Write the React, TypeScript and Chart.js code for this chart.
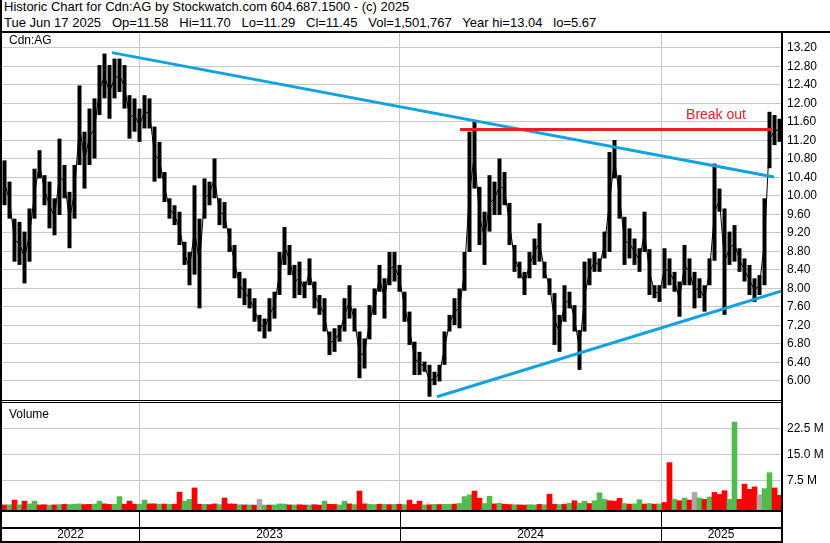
import React, { useEffect, useRef } from 'react';
import { Chart, registerables } from 'chart.js';

Chart.register(...registerables);

// ---------- text ----------
const headerLine1 = 'Historic Chart for Cdn:AG by Stockwatch.com 604.687.1500 - (c) 2025';
const headerLine2 =
  'Tue Jun 17 2025   Op=11.58   Hi=11.70   Lo=11.29   Cl=11.45   Vol=1,501,767   Year hi=13.04   lo=5.67';
const symbolLabel = 'Cdn:AG';
const volumeLabel = 'Volume';

// ---------- data (one entry per week, Jun 2022 .. Jun 2025) ----------
const highs = [
  10.77, 10.31, 9.51, 9.44, 9.23, 9.73, 10.59, 10.99, 10.45, 10.31,
  9.95, 11.24, 10.67, 10.09, 10.67, 12.39, 11.39, 11.89, 12.11, 12.83,
  13.08, 12.83, 12.97, 12.97, 12.83, 12.18, 12.11, 11.89, 12.18, 12.11,
  11.5, 11.17, 10.52, 9.95, 9.8, 9.66, 9.01, 8.79, 10.23, 9.51,
  10.38, 10.31, 10.81, 9.95, 9.87, 9.3, 8.94, 8.36, 8.22, 8.0,
  7.79, 7.43, 7.35, 7.79, 7.93, 8.79, 9.33, 8.94, 8.51, 8.58,
  8.15, 8.65, 8.15, 7.86, 7.79, 7.07, 7.14, 7.21, 7.79, 8.07,
  7.57, 7.07, 6.92, 7.64, 8.0, 8.51, 8.22, 8.79, 8.79, 8.51,
  7.93, 7.5, 6.85, 6.63, 6.42, 6.35, 6.2, 6.35, 7.07, 7.43,
  7.79, 8.0, 8.79, 11.39, 11.64, 10.2, 9.66, 10.45, 10.31, 10.81,
  10.52, 9.85, 8.94, 8.58, 8.36, 8.79, 9.08, 9.41, 8.58, 8.22,
  7.9, 7.43, 8.07, 7.93, 7.64, 7.1, 8.58, 8.65, 8.79, 8.65,
  9.23, 10.95, 11.21, 10.45, 9.55, 9.3, 9.08, 8.87, 9.66, 8.85,
  8.07, 8.07, 8.87, 8.65, 8.36, 8.15, 8.94, 8.65, 8.36, 8.22,
  8.07, 8.65, 10.7, 10.16, 9.73, 9.23, 9.37, 8.87, 8.65, 8.51,
  8.22, 8.29, 9.95, 11.82, 11.75, 11.67,
];
const lows = [
  9.8, 9.51, 8.58, 8.51, 8.11, 8.58, 9.51, 10.38, 9.8, 9.3,
  9.15, 9.59, 9.95, 8.87, 9.51, 10.67, 10.16, 10.67, 10.81, 11.75,
  12.11, 11.67, 12.11, 12.25, 11.89, 11.24, 11.39, 11.17, 11.46, 11.46,
  10.31, 10.38, 9.87, 9.51, 9.37, 8.94, 8.51, 8.07, 8.3, 7.57,
  9.51, 9.8, 9.95, 9.37, 9.3, 8.79, 8.22, 7.79, 7.64, 7.57,
  7.28, 7.07, 6.92, 7.07, 7.35, 7.86, 8.51, 8.29, 7.79, 7.86,
  7.79, 8.07, 7.57, 7.43, 7.07, 6.56, 6.63, 6.85, 7.07, 7.35,
  7.07, 6.06, 6.27, 6.9, 7.43, 7.93, 7.35, 8.07, 8.15, 7.93,
  7.28, 6.78, 6.13, 6.13, 6.2, 5.66, 5.91, 5.99, 6.35, 7.07,
  7.21, 7.14, 7.95, 8.79, 10.16, 8.94, 8.51, 9.23, 9.59, 9.59,
  9.8, 8.94, 8.36, 8.22, 7.86, 8.22, 8.51, 8.58, 8.22, 7.86,
  6.78, 6.63, 7.28, 7.57, 7.07, 6.24, 7.07, 8.07, 8.36, 8.36,
  8.65, 8.79, 10.38, 9.51, 8.51, 8.65, 8.51, 8.36, 8.79, 7.86,
  7.79, 7.71, 8.0, 8.07, 7.93, 7.39, 8.07, 8.07, 7.57, 7.79,
  7.5, 8.07, 8.6, 9.66, 7.43, 8.51, 8.58, 8.36, 8.15, 7.86,
  7.71, 7.86, 8.07, 10.6, 11.1, 11.17,
];
// volume in millions
const volumes = [
  0.4, 0.45, 1.8, 0.45, 1.5, 0.7, 1.5, 0.4, 0.45, 0.35,
  0.4, 0.5, 0.55, 0.5, 0.6, 0.7, 0.5, 0.55, 0.65, 1.5,
  0.7, 0.55, 0.6, 2.8, 0.6, 1.5, 0.6, 0.6, 1.8, 0.7,
  0.7, 0.6, 0.65, 0.55, 0.6, 4.1, 1.5, 2.0, 5.3, 0.6,
  0.55, 0.5, 0.7, 0.5, 2.4, 0.7, 0.65, 0.45, 0.4, 0.4,
  0.35, 2.0, 0.35, 0.35, 0.4, 0.7, 0.65, 0.4, 0.4, 0.45,
  0.35, 0.4, 0.45, 0.35, 1.5, 0.6, 0.55, 0.4, 1.5, 0.7,
  0.5, 4.4, 0.7, 0.55, 0.5, 0.6, 0.55, 0.5, 0.55, 0.6,
  0.5, 1.8, 0.55, 1.5, 0.4, 0.45, 0.55, 0.5, 0.6, 0.55,
  0.65, 0.8, 2.8, 3.3, 4.4, 2.3, 0.8, 2.9, 0.7, 0.9,
  0.6, 0.5, 0.45, 0.4, 0.35, 0.45, 0.4, 0.55, 0.45, 3.5,
  0.6, 0.5, 0.55, 0.9, 1.6, 0.9, 1.5, 0.8, 1.6, 3.9,
  2.0, 1.6, 1.5, 2.3, 0.8, 0.6, 0.7, 1.9, 0.65, 0.8,
  0.6, 0.7, 1.1, 12.6, 2.0, 1.6, 2.4, 1.8, 4.0, 2.4,
  2.0, 2.7, 4.0, 3.4, 4.5, 2.0, 24.3, 2.0, 6.4, 4.9,
  5.6, 3.3, 5.1, 9.7, 5.3, 3.2,
];
// r = down, g = up, n = unchanged
const volumeDirs = [
  'rgrgrggrrg', 'rgrgggrrgg', 'rrggrrrggr', 'rgrgrrggrr', 'grrgrrrgrg',
  'rngrgggrgr', 'rgrrgrrggr', 'grrggrgrgr', 'grrrgrgrgg', 'rgggrrggrg',
  'rrgrrggrgr', 'rgrgrggrgg', 'grrrgrggrg', 'rgrrgrgrng', 'rgrrrggrrr',
  'rnggrr',
].join('').split('');

const priceTicks = [
  6.0, 6.4, 6.8, 7.2, 7.6, 8.0, 8.4, 8.8, 9.2, 9.6,
  10.0, 10.4, 10.8, 11.2, 11.6, 12.0, 12.4, 12.8, 13.2,
];
const volumeTicks = [7.5, 15.0, 22.5];
const yearLabels = ['2022', '2023', '2024', '2025'];
const yearStarts = [27.4, 79.6, 131.8]; // in weeks from the first bar
const weekSpan = 155.8;

const priceMin = 5.589;
const priceMax = 13.524;
const volMin = -1.067;
const volMax = 29.8;

// trend lines drawn by the author of the chart
const upperTrend = [
  { x: 22.0, y: 13.1 },
  { x: 154.4, y: 10.41 },
];
const lowerTrend = [
  { x: 87.0, y: 5.66 },
  { x: 155.8, y: 7.94 },
];
const breakoutLine = [
  { x: 91.6, y: 11.44 },
  { x: 154.0, y: 11.44 },
];
const breakoutText = { text: 'Break out', x: 142.8, y: 11.75 };

// ---------- styles ----------
const FONT = '"Liberation Sans", Arial, Helvetica, sans-serif';
const GRID = '#c8c8c8';
const BLUE = '#13a1e1';
const RED = '#ed1c24';
const DIR_COLORS: Record<string, string> = { r: '#ff0000', g: '#52bb4e', n: '#aaaaaa' };

const W = 830;
const PRICE_TOP = 33;
const PRICE_H = 367;
const VOL_TOP = 403;
const VOL_H = 140;
const AXIS_W = 49;

function xScaleOptions() {
  return {
    type: 'linear' as const,
    min: 0,
    max: weekSpan,
    offset: false,
    grid: { color: GRID, lineWidth: 1, drawTicks: false, offset: false },
    border: { display: false },
    ticks: { display: false },
    afterBuildTicks: (s: any) => {
      s.ticks = yearStarts.map((v) => ({ value: v }));
    },
    afterFit: (s: any) => {
      s.height = 0;
      s.paddingLeft = 0;
      s.paddingRight = 0;
      s.paddingTop = 0;
      s.paddingBottom = 0;
    },
  };
}

function yScaleOptions(min: number, max: number, ticks: number[], fmt: (v: number) => string) {
  return {
    position: 'right' as const,
    min,
    max,
    grid: { color: GRID, lineWidth: 1, drawTicks: false },
    border: { display: false },
    ticks: {
      padding: 6,
      color: '#000',
      font: { family: FONT, size: 12 },
      callback: (v: any) => fmt(Number(v)),
    },
    afterBuildTicks: (s: any) => {
      s.ticks = ticks.map((v) => ({ value: v }));
    },
    afterFit: (s: any) => {
      s.width = AXIS_W;
      s.paddingTop = 0;
      s.paddingBottom = 0;
      s.paddingLeft = 0;
      s.paddingRight = 0;
    },
  };
}

function PriceChart() {
  const ref = useRef<HTMLCanvasElement>(null);
  useEffect(() => {
    const labelPlugin = {
      id: 'priceLabels',
      afterDatasetsDraw(chart: any) {
        const { ctx, chartArea, scales } = chart;
        ctx.save();
        ctx.font = `12px ${FONT}`;
        ctx.fillStyle = '#000';
        ctx.textAlign = 'left';
        ctx.textBaseline = 'middle';
        ctx.fillText(symbolLabel, chartArea.left + 7, chartArea.top + 8);
        ctx.font = `14px ${FONT}`;
        ctx.fillStyle = RED;
        ctx.textAlign = 'center';
        ctx.fillText(
          breakoutText.text,
          scales.x.getPixelForValue(breakoutText.x),
          scales.y.getPixelForValue(breakoutText.y)
        );
        ctx.restore();
      },
    };
    const chart = new Chart(ref.current!, {
      type: 'bar',
      data: {
        datasets: [
          {
            type: 'line',
            data: breakoutLine,
            borderColor: RED,
            borderWidth: 3,
            pointRadius: 0,
            order: 0,
          } as any,
          {
            type: 'line',
            data: upperTrend,
            borderColor: BLUE,
            borderWidth: 3,
            pointRadius: 0,
            order: 1,
          },
          {
            type: 'line',
            data: lowerTrend,
            borderColor: BLUE,
            borderWidth: 3,
            pointRadius: 0,
            order: 1,
          },
          {
            type: 'line',
            data: highs.map((h, i) => ({ x: i + 0.5, y: (h + lows[i]) / 2 })),
            borderColor: '#000',
            borderWidth: 1,
            pointRadius: 0,
            order: 2,
          },
          {
            type: 'bar',
            data: highs.map((h, i) => ({ x: i + 0.5, y: [lows[i], h] })),
            backgroundColor: '#000',
            borderWidth: 0,
            barPercentage: 0.8,
            categoryPercentage: 1,
            order: 3,
          },
        ],
      },
      options: {
        responsive: false,
        animation: false,
        events: [],
        layout: { autoPadding: false, padding: { left: 2, right: 0, top: 0, bottom: 0 } },
        plugins: { legend: { display: false }, tooltip: { enabled: false } },
        scales: {
          x: xScaleOptions(),
          y: yScaleOptions(priceMin, priceMax, priceTicks, (v) => v.toFixed(2)),
        } as any,
      },
      plugins: [labelPlugin],
    } as any);
    return () => chart.destroy();
  }, []);
  return (
    <canvas
      ref={ref}
      width={W}
      height={PRICE_H}
      style={{ position: 'absolute', left: 0, top: PRICE_TOP, width: W, height: PRICE_H }}
    />
  );
}

function VolumeChart() {
  const ref = useRef<HTMLCanvasElement>(null);
  useEffect(() => {
    const bandPlugin = {
      id: 'volumeBands',
      afterDatasetsDraw(chart: any) {
        const { ctx, chartArea, scales } = chart;
        const xs = scales.x;
        ctx.save();
        ctx.font = `12px ${FONT}`;
        ctx.fillStyle = '#000';
        ctx.textAlign = 'left';
        ctx.textBaseline = 'middle';
        ctx.fillText(volumeLabel, chartArea.left + 7, chartArea.top + 12);
        // year separators in the date bands
        ctx.strokeStyle = '#000';
        ctx.lineWidth = 1;
        const bandTop = chartArea.bottom + 2;
        const bandBottom = VOL_H - 2;
        yearStarts.forEach((v) => {
          const px = Math.round(xs.getPixelForValue(v)) + 0.5;
          ctx.beginPath();
          ctx.moveTo(px, bandTop);
          ctx.lineTo(px, bandBottom);
          ctx.stroke();
        });
        const bounds = [xs.min, ...yearStarts, xs.max];
        ctx.textAlign = 'center';
        yearLabels.forEach((lab, i) => {
          const cx = (xs.getPixelForValue(bounds[i]) + xs.getPixelForValue(bounds[i + 1])) / 2;
          ctx.fillText(lab, cx, chartArea.bottom + 25);
        });
        ctx.restore();
      },
    };
    const chart = new Chart(ref.current!, {
      type: 'bar',
      data: {
        datasets: [
          {
            data: volumes.map((v, i) => ({ x: i + 0.5, y: [volMin, v] })),
            backgroundColor: volumeDirs.map((d) => DIR_COLORS[d]),
            borderWidth: 0,
            barPercentage: 1,
            categoryPercentage: 1,
          },
        ],
      },
      options: {
        responsive: false,
        animation: false,
        events: [],
        layout: { autoPadding: false, padding: { left: 2, right: 0, top: 0, bottom: 33 } },
        plugins: { legend: { display: false }, tooltip: { enabled: false } },
        scales: {
          x: xScaleOptions(),
          y: yScaleOptions(volMin, volMax, volumeTicks, (v) => v.toFixed(1) + ' M'),
        } as any,
      },
      plugins: [bandPlugin],
    } as any);
    return () => chart.destroy();
  }, []);
  return (
    <canvas
      ref={ref}
      width={W}
      height={VOL_H}
      style={{ position: 'absolute', left: 0, top: VOL_TOP, width: W, height: VOL_H }}
    />
  );
}

const frameLines = [
  { left: 0, top: 0, width: 2, height: 543 },
  { left: 0, top: 31, width: 830, height: 2 },
  { left: 781, top: 33, width: 2, height: 510 },
  { left: 0, top: 400, width: 783, height: 1 },
  { left: 0, top: 402, width: 783, height: 1 },
  { left: 0, top: 510, width: 783, height: 2 },
  { left: 0, top: 527, width: 783, height: 2 },
  { left: 0, top: 541, width: 783, height: 2 },
];

export default function App() {
  return (
    <div
      style={{
        position: 'fixed',
        left: 0,
        top: 0,
        width: W,
        height: 543,
        background: '#fff',
        overflow: 'hidden',
        fontFamily: FONT,
      }}
    >
      <div
        style={{
          position: 'absolute',
          left: 4,
          top: -1,
          fontSize: 13,
          lineHeight: '16px',
          color: '#000',
          whiteSpace: 'pre',
        }}
      >
        <div>{headerLine1}</div>
        <div>{headerLine2}</div>
      </div>
      <PriceChart />
      <VolumeChart />
      {frameLines.map((f, i) => (
        <div key={i} style={{ position: 'absolute', background: '#000', ...f }} />
      ))}
    </div>
  );
}
